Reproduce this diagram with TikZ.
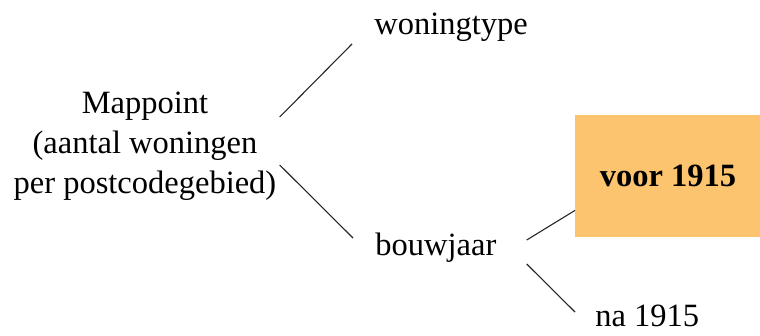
\documentclass[tikz,border=0pt]{standalone}
\usepackage{fontspec}
\setmainfont{Liberation Serif}
\usetikzlibrary{positioning}
\definecolor{boxorange}{RGB}{252,196,110}

\begin{document}
\begin{tikzpicture}[x=0.5pt,y=-0.5pt,inner sep=0pt,font=\fontsize{16.25}{20}\selectfont,
	lbl/.style={anchor=base west},
	link/.style={draw=black!85,line width=0.55pt}]
	\useasboundingbox (0,0) rectangle (760,336);
	
	\node[align=center] (map) at (145,146) {Mappoint\\(aantal woningen\\per postcodegebied)};
	\node[lbl] (type) at (374,35) {woningtype};
	\node[lbl] (jaar) at (375,256) {bouwjaar};
	\node[fill=boxorange,minimum width=92.5pt,minimum height=61pt,anchor=north west,font=\fontsize{16.25}{20}\selectfont\bfseries] (voor) at (575,115) {voor 1915};
	\node[lbl] (na) at (595,326) {na 1915};
	
	\draw[link] ([shift={(3,-29)}]map.east) -- ([shift={(-22,9)}]type.base west);
	\draw[link] ([shift={(3,19)}]map.east) -- ([shift={(-22,-18)}]jaar.base west);
	\draw[link] ([shift={(30,-16)}]jaar.base east) -- ([yshift=-17]voor.west);
	\draw[link] ([shift={(30,8)}]jaar.base east) -- ([shift={(-20,-14)}]na.base west);
\end{tikzpicture}
\end{document}
